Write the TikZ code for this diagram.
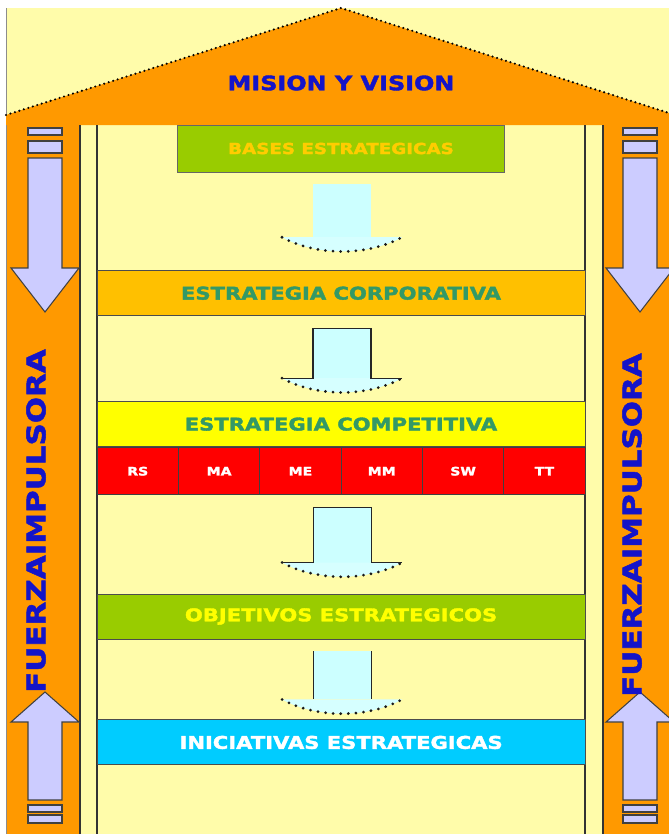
\documentclass[tikz,border=0pt]{standalone}
\usepackage{fontspec}
\newfontfamily\signfont[FakeStretch=1.2, BoldFeatures={FakeBold=2}]{DejaVu Sans}
\usetikzlibrary{positioning,calc,fit}
\definecolor{wallyellow}{RGB}{255,252,170}
\definecolor{rooforange}{RGB}{255,153,0}
\definecolor{inkblue}{RGB}{20,20,200}
\definecolor{leafgreen}{RGB}{153,204,0}
\definecolor{goldtext}{RGB}{255,204,0}
\definecolor{ambercorp}{RGB}{255,192,0}
\definecolor{tealtext}{RGB}{51,153,102}
\definecolor{brightyellow}{RGB}{255,255,0}
\definecolor{cellred}{RGB}{255,0,0}
\definecolor{skycyan}{RGB}{0,204,255}
\definecolor{palecyan}{RGB}{204,255,255}
\definecolor{lavender}{RGB}{204,204,255}

\tikzset{
  bar/.style={draw=black!70, line width=0.8pt, minimum width=14.64cm, minimum height=1.35cm, inner sep=0pt, font=\signfont\bfseries\fontsize{15}{15}\selectfont},
  redcell/.style={draw=black!75, line width=1pt, fill=cellred, text=white, minimum width=2.44cm, minimum height=1.41cm, inner sep=0pt, font=\signfont\bfseries\fontsize{10}{10}\selectfont},
  colarrow/.style={fill=lavender, draw=black!75, line width=0.9pt},
  headdots/.style={draw=black!90, line width=2.6pt, line cap=round, dash pattern=on 0pt off 6.5pt},
  sidetext/.style={rotate=90, text=inkblue, font=\signfont\bfseries\fontsize{22}{22}\selectfont}
}

\begin{document}
\begin{tikzpicture}[x=0.03cm, y=-0.03cm]
  \useasboundingbox (0,0) rectangle (669,834);
  \fill[white] (0,0) rectangle (669,834);
  \fill[wallyellow] (6,8) rectangle (669,834);
  \draw[black!45, line width=0.8pt] (6,8) -- (6,834);

  % roof
  \fill[rooforange] (6,115) -- (341,8) -- (669,113) -- (669,125) -- (6,125) -- cycle;
  \draw[black, line width=2pt, line cap=round, dash pattern=on 0pt off 4pt] (6,115) -- (341,8) -- (669,113);
  \node[text=inkblue, font=\signfont\bfseries\fontsize{17}{17}\selectfont] (mission) at (341,83) {MISION Y VISION};

  % columns
  \fill[rooforange] (7,125) rectangle (80,834);
  \fill[rooforange] (603,125) rectangle (669,834);
  \foreach \xl in {80,97,585,603}
    \draw[black!80, line width=1.1pt] (\xl,125) -- (\xl,834);
  \foreach \cx in {45,640} {
    \draw[colarrow] (\cx-17,128) rectangle (\cx+17,135);
    \draw[colarrow] (\cx-17,141) rectangle (\cx+17,153);
    \draw[colarrow] (\cx-17,158) -- (\cx+17,158) -- (\cx+17,268) -- (\cx+34,268) -- (\cx,312) -- (\cx-34,268) -- (\cx-17,268) -- cycle;
    \draw[colarrow] (\cx,692) -- (\cx+34,722) -- (\cx+17,722) -- (\cx+17,800) -- (\cx-17,800) -- (\cx-17,722) -- (\cx-34,722) -- cycle;
    \draw[colarrow] (\cx-17,805) rectangle (\cx+17,812);
    \draw[colarrow] (\cx-17,815) rectangle (\cx+17,823);
  }
  \node[sidetext] (leftforce) at (36,521) {FUERZAIMPULSORA};
  \node[sidetext] (rightforce) at (632,525) {FUERZAIMPULSORA};

  % bars
  \node[draw=black!60, fill=leafgreen, minimum width=9.81cm, minimum height=1.41cm, inner sep=0pt, text=goldtext, font=\signfont\bfseries\fontsize{13}{13}\selectfont] (bases) at (341,148.5) {BASES ESTRATEGICAS};
  \node[bar, fill=ambercorp, text=tealtext, below=2.94cm of bases] (corp) {ESTRATEGIA CORPORATIVA};
  \node[bar, fill=brightyellow, text=tealtext, below=2.55cm of corp] (comp) {ESTRATEGIA COMPETITIVA};
  \foreach \lab [count=\i] in {RS,MA,ME,MM,SW,TT}
    \node[redcell, anchor=north west] (cell\i) at ($(comp.south west)+({(\i-1)*81.33},0)$) {\lab};
  \node[fit=(cell1)(cell6), inner sep=0pt] (redrow) {};
  \node[bar, fill=leafgreen, text=brightyellow, below=2.94cm of redrow] (obj) {OBJETIVOS ESTRATEGICOS};
  \node[bar, fill=skycyan, text=white, below=2.4cm of obj] (inic) {INICIATIVAS ESTRATEGICAS};

  % block arrows
  \foreach \up/\low/\drop [count=\i] in {bases/corp/33, corp/comp/23, redrow/obj/31, obj/inic/20} {
    \coordinate (top\i) at ($(\up.south)+(1,12)$);
    \coordinate (wing\i) at ($(\low.north)+(1,-\drop)$);
    \fill[palecyan] ($(top\i)+(-29,0)$) rectangle ($(wing\i)+(29,0)$);
    \fill[palecyan!80] ($(wing\i)+(-60,0)$) .. controls ($(wing\i)+(-25,19)$) and ($(wing\i)+(25,19)$) .. ($(wing\i)+(60,0)$) -- cycle;
    \draw[headdots] ($(wing\i)+(-60,0)$) .. controls ($(wing\i)+(-25,19)$) and ($(wing\i)+(25,19)$) .. ($(wing\i)+(60,0)$);
  }
  \foreach \i in {2,3}
    \draw[black!85, line width=1pt] ($(wing\i)+(-60,0)$) -- ($(wing\i)+(-29,0)$) -- ($(top\i)+(-29,0)$) -- ($(top\i)+(29,0)$) -- ($(wing\i)+(29,0)$) -- ($(wing\i)+(60,0)$);
  \draw[black!85, line width=1pt] ($(top4)+(-29,0)$) -- ($(wing4)+(-29,0)$);
  \draw[black!85, line width=1pt] ($(top4)+(29,0)$) -- ($(wing4)+(29,0)$);
\end{tikzpicture}
\end{document}
